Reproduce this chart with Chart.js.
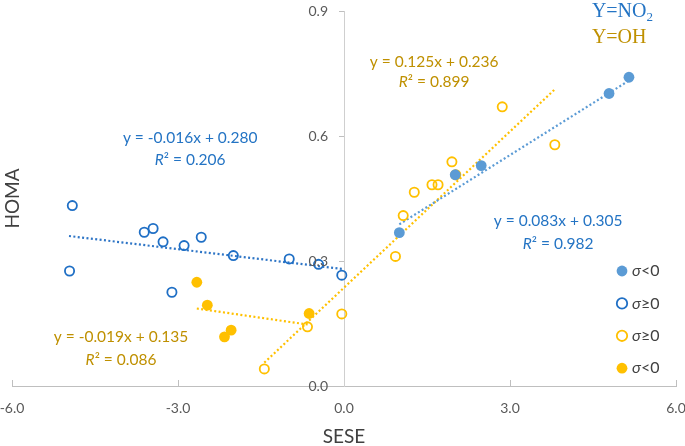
<!DOCTYPE html>
<html><head><meta charset="utf-8">
<script src="https://cdn.jsdelivr.net/npm/chart.js@4/dist/chart.umd.min.js"></script>
<style>html,body{margin:0;padding:0;background:#fff}#wrap{width:685px;height:446px;position:relative}</style>
</head><body><div id="wrap"><canvas id="c" width="685" height="446"></canvas></div>
<script>
// ---------- data ----------
const no2NegX = [1.00, 2.01, 2.48, 4.79, 5.15];
const no2NegY = [0.368, 0.507, 0.529, 0.702, 0.741];
const no2PosX = [-4.91, -4.96, -3.61, -3.45, -3.27, -2.89, -2.58, -3.11, -2.00, -0.99, -0.46, -0.04];
const no2PosY = [0.433, 0.276, 0.369, 0.378, 0.346, 0.337, 0.357, 0.225, 0.313, 0.305, 0.292, 0.266];
const ohPosX = [-1.44, -0.66, -0.04, 0.93, 1.07, 1.27, 1.59, 1.70, 1.95, 2.02, 2.86, 3.81];
const ohPosY = [0.041, 0.142, 0.173, 0.311, 0.409, 0.465, 0.483, 0.483, 0.538, 0.507, 0.670, 0.579];
const ohNegX = [-2.66, -2.47, -2.04, -2.16, -0.63];
const ohNegY = [0.249, 0.194, 0.134, 0.118, 0.174];
// trend line end points
const trendNo2PosX = [-4.97, -0.04], trendNo2PosY = [0.360, 0.281];
const trendNo2NegX = [1.00, 5.15],  trendNo2NegY = [0.388, 0.733];
const trendOhPosX = [-1.44, 3.81],  trendOhPosY = [0.056, 0.712];
const trendOhNegX = [-2.66, -0.63], trendOhNegY = [0.186, 0.147];
// labels
const seriesLabels = ['σ<0', 'σ≥0', 'σ≥0', 'σ<0'];
const eqNo2Pos = ['y = -0.016x + 0.280', '0.206'];
const eqNo2Neg = ['y = 0.083x + 0.305', '0.982'];
const eqOhPos = ['y = 0.125x + 0.236', '0.899'];
const eqOhNeg = ['y = -0.019x + 0.135', '0.086'];
const xTitle = 'SESE', yTitle = 'HOMA';
const xMin = -6, xMax = 6, xStep = 3;
const yMin = 0, yMax = 0.9, yStep = 0.3;

// ---------- styles ----------
const BLUE_OPEN = '#1f6fc5', BLUE_FILL = '#5b9bd5', GOLD = '#ffc000';
const TXT_BLUE = '#2474c4', TXT_GOLD = '#bf9000';
const pts = (xs, ys) => xs.map((x, i) => ({x, y: ys[i]}));
const FONT = 'Lato, "Open Sans", sans-serif';

function trend(xs, ys, color) {
  return {type: 'line', data: pts(xs, ys), borderColor: color, borderWidth: 2.2,
    borderDash: [2, 2.4], pointRadius: 0, fill: false, tension: 0, showLine: true};
}

const datasets = [
  {label: seriesLabels[0], data: pts(no2NegX, no2NegY), backgroundColor: BLUE_FILL, borderColor: BLUE_FILL, borderWidth: 0, pointRadius: 5.4, legend: 0},
  {label: seriesLabels[1], data: pts(no2PosX, no2PosY), backgroundColor: 'rgba(0,0,0,0)', borderColor: BLUE_OPEN, borderWidth: 1.8, pointRadius: 4.6, legend: 1},
  {label: seriesLabels[2], data: pts(ohPosX, ohPosY), backgroundColor: 'rgba(0,0,0,0)', borderColor: GOLD, borderWidth: 1.8, pointRadius: 4.6, legend: 2},
  {label: seriesLabels[3], data: pts(ohNegX, ohNegY), backgroundColor: GOLD, borderColor: GOLD, borderWidth: 0, pointRadius: 5.4, legend: 3},
  trend(trendNo2PosX, trendNo2PosY, '#2e75c6'),
  trend(trendNo2NegX, trendNo2NegY, BLUE_FILL),
  trend(trendOhPosX, trendOhPosY, GOLD),
  trend(trendOhNegX, trendOhNegY, GOLD)
];

// annotation anchors (data coordinates of the text centre)
const annots = [
  {eq: eqNo2Pos, x: -2.78, y: 0.595, y2: 0.542, color: TXT_BLUE},
  {eq: eqNo2Neg, x: 3.87, y: 0.396, y2: 0.342, color: TXT_BLUE},
  {eq: eqOhPos, x: 1.63, y: 0.778, y2: 0.730, color: TXT_GOLD},
  {eq: eqOhNeg, x: -4.03, y: 0.118, y2: 0.062, color: TXT_GOLD}
];

function drawParts(ctx, parts, cx, cy) {
  let w = 0;
  parts.forEach(p => { ctx.font = p.font; p.w = ctx.measureText(p.t).width; w += p.w; });
  let x = cx - w / 2;
  ctx.textBaseline = 'middle'; ctx.textAlign = 'left';
  parts.forEach(p => { ctx.font = p.font; ctx.fillText(p.t, x, cy + (p.dy || 0)); x += p.w; });
}

const decor = {
  id: 'decor',
  afterDatasetsDraw(chart) {
    const {ctx, scales: {x, y}, chartArea} = chart;
    ctx.save();
    // y tick labels (left of the crossing axis)
    const ax = x.getPixelForValue(0);
    ctx.fillStyle = '#595959';
    ctx.font = '14px ' + FONT;
    ctx.textAlign = 'right'; ctx.textBaseline = 'middle';
    y.ticks.forEach(t => ctx.fillText(t.value.toFixed(1), ax - 16, y.getPixelForValue(t.value)));
    // equations
    annots.forEach(a => {
      ctx.fillStyle = a.color;
      const cx = x.getPixelForValue(a.x);
      drawParts(ctx, [{t: a.eq[0], font: '15.5px ' + FONT}], cx, y.getPixelForValue(a.y));
      drawParts(ctx, [
        {t: 'R', font: 'italic 15.5px ' + FONT},
        {t: '²', font: '15.5px ' + FONT},
        {t: ' = ' + a.eq[1], font: '15.5px ' + FONT}
      ], cx, y.getPixelForValue(a.y2));
    });
    // Y=NO2 / Y=OH
    ctx.textAlign = 'left'; ctx.textBaseline = 'alphabetic';
    const tx = x.getPixelForValue(4.48);
    ctx.fillStyle = TXT_BLUE;
    ctx.font = '20px "Liberation Serif", "DejaVu Serif", serif';
    ctx.fillText('Y=NO', tx, y.getPixelForValue(0.886));
    const wNo = ctx.measureText('Y=NO').width;
    ctx.font = '13px "Liberation Serif", serif';
    ctx.fillText('2', tx + wNo, y.getPixelForValue(0.886) + 4);
    ctx.fillStyle = TXT_GOLD;
    ctx.font = '20px "Liberation Serif", "DejaVu Serif", serif';
    ctx.fillText('Y=OH', tx, y.getPixelForValue(0.824));
    // legend
    const items = chart.data.datasets.filter(d => d.legend !== undefined).sort((a, b) => a.legend - b.legend);
    items.forEach((d, i) => {
      const mx = 622, my = 271 + i * 32.4;
      ctx.beginPath();
      ctx.arc(mx, my, d.borderWidth ? 5.2 : 5.4, 0, Math.PI * 2);
      if (d.borderWidth) { ctx.lineWidth = 1.8; ctx.strokeStyle = d.borderColor; ctx.stroke(); }
      else { ctx.fillStyle = d.backgroundColor; ctx.fill(); }
      ctx.fillStyle = '#404040';
      const parts = [{t: d.label[0], font: 'italic 16px ' + FONT}, {t: d.label.slice(1), font: '16px ' + FONT}];
      let px = 632;
      ctx.textBaseline = 'middle'; ctx.textAlign = 'left';
      parts.forEach(p => { ctx.font = p.font; ctx.fillText(p.t, px, my); px += ctx.measureText(p.t).width; });
    });
    // y title
    ctx.save();
    ctx.translate(12.5, (chartArea.top + chartArea.bottom) / 2);
    ctx.rotate(-Math.PI / 2);
    ctx.fillStyle = '#404040';
    ctx.font = '19px ' + FONT;
    ctx.textAlign = 'center'; ctx.textBaseline = 'middle';
    ctx.fillText(yTitle, 0, 0);
    ctx.restore();
    ctx.restore();
  }
};

new Chart(document.getElementById('c'), {
  type: 'scatter',
  data: {datasets},
  options: {
    responsive: false, animation: false, devicePixelRatio: 1,
    layout: {padding: {left: 12, right: 9, top: 11, bottom: 0}},
    plugins: {legend: {display: false}, tooltip: {enabled: false}},
    elements: {point: {pointStyle: 'circle'}},
    scales: {
      x: {
        type: 'linear', position: 'bottom', min: xMin, max: xMax,
        ticks: {stepSize: xStep, callback: v => v.toFixed(1), color: '#595959', font: {family: FONT, size: 14}, padding: 20, maxRotation: 0},
        grid: {drawOnChartArea: false, tickLength: -6, color: '#bfbfbf'},
        border: {color: '#bfbfbf'},
        title: {display: true, text: xTitle, color: '#404040', font: {family: FONT, size: 19, lineHeight: 1}, padding: {top: 4, bottom: 0}},
        afterFit(s) { s.height = 60; s.paddingLeft = 0; s.paddingRight = 0; }
      },
      y: {
        type: 'linear', position: {x: 0}, min: yMin, max: yMax,
        ticks: {stepSize: yStep, display: false},
        grid: {drawOnChartArea: false, tickLength: 5, color: '#bfbfbf'},
        border: {color: '#cfcfcf'},
        afterFit(s) { s.paddingTop = 0; s.paddingBottom = 0; }
      }
    }
  },
  plugins: [decor]
});
</script></body></html>
